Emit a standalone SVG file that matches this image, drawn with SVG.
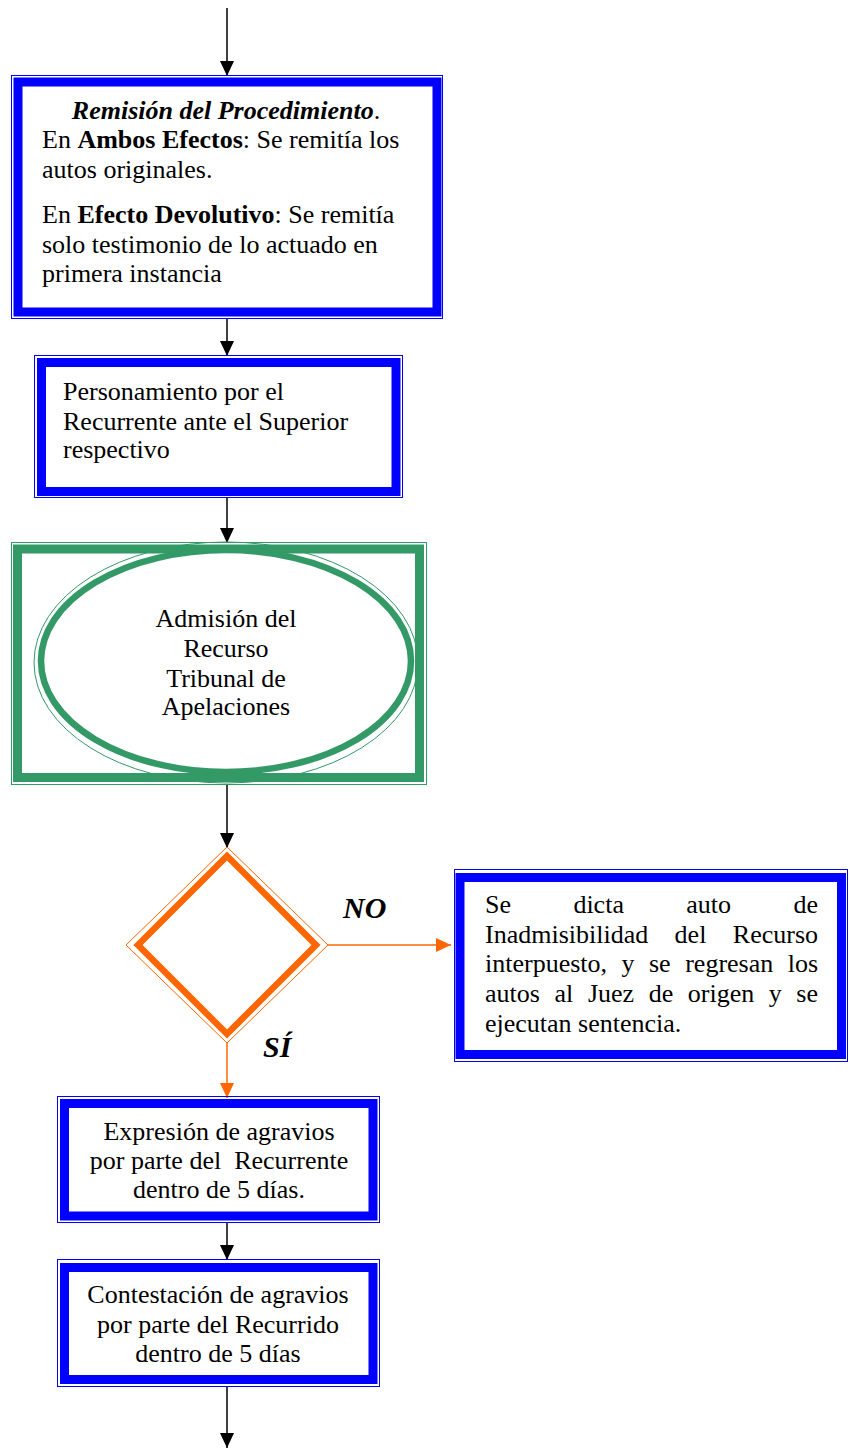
<svg xmlns="http://www.w3.org/2000/svg" width="852" height="1450" viewBox="0 0 852 1450" font-family="'Liberation Serif', 'Times New Roman', serif" font-size="26">
<style>
.t{font-family:'Liberation Serif','Times New Roman',serif;font-size:26px;fill:#000}
.c{text-anchor:middle}
.e{text-anchor:end}
.b{font-weight:bold}
.bi{font-weight:bold;font-style:italic}
.lbl{font-weight:bold;font-style:italic;font-size:30px}
.bt{fill:#fff;stroke:#0000ff;stroke-width:9}
.bn{fill:none;stroke:#0000ff;stroke-width:1}
.gt{fill:none;stroke:#339966;stroke-width:9}
.gn{fill:none;stroke:#339966;stroke-width:1}
.ot{fill:#fff;stroke:#ff6600;stroke-width:6.5}
.on{fill:none;stroke:#ff6600;stroke-width:1}
.k{stroke:#000;stroke-width:1.5;fill:none}
.o{stroke:#ff6600;stroke-width:1.5;fill:none}
</style>
<defs>
<marker id="ak" markerUnits="userSpaceOnUse" markerWidth="16" markerHeight="16" viewBox="0 0 16 16" refX="15" refY="8" orient="auto"><path d="M0,1 L15,8 L0,15 Z" fill="#000"/></marker>
<marker id="ao" markerUnits="userSpaceOnUse" markerWidth="16" markerHeight="16" viewBox="0 0 16 16" refX="15" refY="8" orient="auto"><path d="M0,1 L15,8 L0,15 Z" fill="#ff6600"/></marker>
</defs>
<rect width="852" height="1450" fill="#fff"/>
<g id="connectors">
<line class="k" x1="227" y1="8" x2="227" y2="76" marker-end="url(#ak)"/>
<line class="k" x1="227" y1="319" x2="227" y2="356" marker-end="url(#ak)"/>
<line class="k" x1="227" y1="498" x2="227" y2="543" marker-end="url(#ak)"/>
<line class="k" x1="227" y1="785" x2="227" y2="848" marker-end="url(#ak)"/>
<line class="o" x1="328" y1="945" x2="451" y2="945" marker-end="url(#ao)"/>
<line class="o" x1="227" y1="1043" x2="227" y2="1098" marker-end="url(#ao)"/>
<line class="k" x1="227" y1="1223" x2="227" y2="1260" marker-end="url(#ak)"/>
<line class="k" x1="227" y1="1387" x2="227" y2="1448" marker-end="url(#ak)"/>
</g>
<g id="remision">
<rect class="bn" x="11.5" y="75.5" width="431" height="243"/>
<rect class="bt" x="18" y="82" width="419" height="230"/>
<text class="t c" x="226" y="119"><tspan class="bi">Remisión del Procedimiento</tspan>.</text>
<text class="t" x="42" y="148">En <tspan class="b">Ambos Efectos</tspan>: Se remitía los</text>
<text class="t" x="42" y="178">autos originales.</text>
<text class="t" x="42" y="223">En <tspan class="b">Efecto Devolutivo</tspan>: Se remitía</text>
<text class="t" x="42" y="253">solo testimonio de lo actuado en</text>
<text class="t" x="42" y="282">primera instancia</text>
</g>
<g id="personamiento">
<rect class="bn" x="34.5" y="355.5" width="368" height="142"/>
<rect class="bt" x="41.5" y="362.5" width="354.5" height="129"/>
<text class="t" x="63" y="400">Personamiento por el</text>
<text class="t" x="63" y="430">Recurrente ante el Superior</text>
<text class="t" x="63" y="458">respectivo</text>
</g>
<g id="admision">
<rect class="gn" x="11.5" y="542.5" width="415" height="242"/>
<rect class="gt" x="17.5" y="549" width="402" height="228.5"/>
<ellipse class="gn" cx="226" cy="662.5" rx="192" ry="120.5" fill="#fff"/>
<ellipse cx="226" cy="661" rx="185" ry="111" fill="#fff" stroke="#339966" stroke-width="6.5"/>
<text class="t c" x="226" y="627">Admisión del</text>
<text class="t c" x="226" y="657">Recurso</text>
<text class="t c" x="226" y="687">Tribunal de</text>
<text class="t c" x="226" y="715">Apelaciones</text>
</g>
<g id="decision">
<polygon class="on" points="227,847 328,945 227,1043 126,945"/>
<polygon class="ot" points="227,856 316,945 227,1034 138,945"/>
<text class="t lbl" x="343" y="918">NO</text>
<text class="t lbl" x="263" y="1057">SÍ</text>
</g>
<g id="inadmisibilidad">
<rect class="bn" x="454.5" y="869.5" width="393" height="192"/>
<rect class="bt" x="460" y="877.5" width="381.5" height="177"/>
<text class="t" y="913"><tspan x="485">Se</tspan><tspan x="573.4">dicta</tspan><tspan x="686.3">auto</tspan></text>
<text class="t e" x="818" y="913">de</text>
<text class="t" y="943"><tspan x="485">Inadmisibilidad</tspan><tspan x="674.6">del</tspan></text>
<text class="t e" x="818" y="943">Recurso</text>
<text class="t" y="972"><tspan x="485">interpuesto,</tspan><tspan x="621.5">y</tspan><tspan x="649">se</tspan><tspan x="685.2">regresan</tspan></text>
<text class="t e" x="818" y="972">los</text>
<text class="t" y="1002"><tspan x="485">autos</tspan><tspan x="554.5">al</tspan><tspan x="587.9">Juez</tspan><tspan x="648.7">de</tspan><tspan x="687.8">origen</tspan><tspan x="768.8">y</tspan></text>
<text class="t e" x="818" y="1002">se</text>
<text class="t" x="485" y="1032">ejecutan sentencia.</text>
</g>
<g id="expresion">
<rect class="bn" x="57.5" y="1096.5" width="322" height="126"/>
<rect class="bt" x="64.5" y="1103.5" width="308.5" height="112.5"/>
<text class="t c" x="219" y="1140">Expresión de agravios</text>
<text class="t c" x="219" y="1169" xml:space="preserve">por parte del  Recurrente</text>
<text class="t c" x="219" y="1198">dentro de 5 días.</text>
</g>
<g id="contestacion">
<rect class="bn" x="57.5" y="1259.5" width="322" height="127"/>
<rect class="bt" x="64.5" y="1267.5" width="308.5" height="112"/>
<text class="t c" x="218" y="1303">Contestación de agravios</text>
<text class="t c" x="218" y="1333">por parte del Recurrido</text>
<text class="t c" x="218" y="1362">dentro de 5 días</text>
</g>
</svg>
